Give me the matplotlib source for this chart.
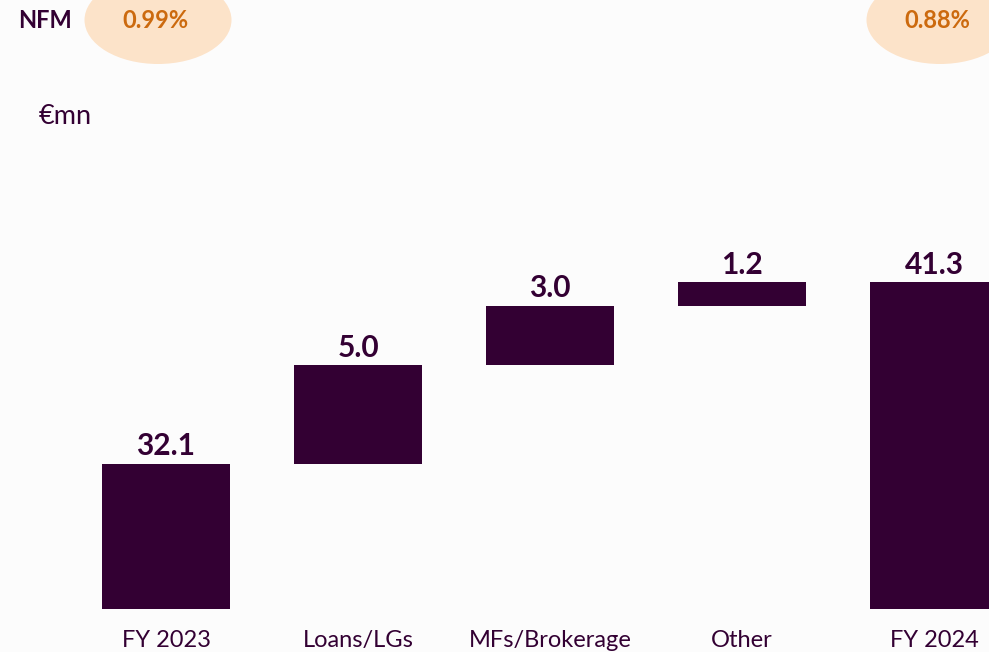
import matplotlib.pyplot as plt
import matplotlib.patches as mpatches
import numpy as np

# Data
categories = ["FY 2023", "Loans/LGs", "MFs/Brokerage", "Other", "FY 2024"]
values = [32.1, 5.0, 3.0, 1.2, 41.3]
is_total = [True, False, False, False, True]
value_labels = ["32.1", "5.0", "3.0", "1.2", "41.3"]
nfm_labels = ["0.99%", "0.88%"]

BAR = "#330033"
BG = "#fcfcfc"
PEACH = "#fce3c9"
ORANGE = "#cc6a0e"

plt.rcParams['font.family'] = ['Lato', 'DejaVu Sans']

# waterfall bottoms
bottoms = []
running = 0.0
for v, tot in zip(values, is_total):
    if tot:
        bottoms.append(0.0)
        running = v
    else:
        bottoms.append(running)
        running += v
bottoms = np.array(bottoms)
tops = bottoms + np.array(values)

fig = plt.figure(figsize=(9.89, 6.52), dpi=100, facecolor=BG)
ax = fig.add_axes([0, 1 - 608.7 / 652, 1, 608.7 / 652])
ax.set_facecolor(BG)

x = np.arange(len(categories))
ax.bar(x, values, bottom=bottoms, width=128 / 192, color=BAR)

for xi, top, lab in zip(x, tops, value_labels):
    ax.annotate(lab, (xi, top), xytext=(0, 6), textcoords="offset points",
                ha="center", va="baseline", fontsize=21.5, fontweight="bold",
                color=BAR)

ax.set_xlim(-166 / 192, (989 - 166) / 192)
ax.set_ylim(24.76, 24.76 + 608.7 / 19.75)
ax.set_xticks(x)
ax.set_xticklabels(categories, fontsize=17, color=BAR)
ax.tick_params(axis="x", length=0, pad=15)
ax.set_yticks([])
for s in ax.spines.values():
    s.set_visible(False)

# NFM header
for cx, lab in zip([158, 940], nfm_labels):
    e = mpatches.Ellipse((cx / 989, 1 - 20 / 652), 147 / 989, 88 / 652,
                         transform=fig.transFigure, facecolor=PEACH,
                         edgecolor="none")
    fig.add_artist(e)
    fig.text((cx - 3) / 989, 1 - 21 / 652, lab, ha="center", va="center",
             fontsize=17, fontweight="bold", color=ORANGE)

fig.text(44.5 / 989, 1 - 21 / 652, "NFM", ha="center", va="center",
         fontsize=17, fontweight="bold", color=BAR)
fig.text(39 / 989, 1 - 117 / 652, "€mn", ha="left", va="center",
         fontsize=19.5, color=BAR)

fig.savefig("out.png", dpi=100, facecolor=BG)
